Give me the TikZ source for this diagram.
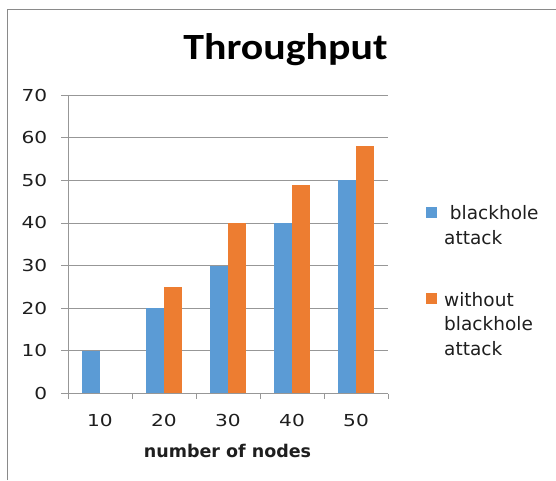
\documentclass[tikz,border=0pt]{standalone}
\usepackage{fontspec}
\usepackage{graphicx}
\setmainfont{DejaVu Sans}
\newfontfamily\titlefont{Carlito}
\definecolor{barblue}{HTML}{5B9BD5}
\definecolor{barorange}{HTML}{ED7D31}
\definecolor{gridgray}{HTML}{979797}
\definecolor{framegray}{HTML}{8A8A8A}
\definecolor{labelgray}{HTML}{1E1E1E}
\begin{document}
\begin{tikzpicture}[x=1pt,y=-1pt,
  gridline/.style={draw=gridgray, line width=0.8pt},
  axisline/.style={draw=gridgray, line width=0.8pt},
  framestyle/.style={draw=framegray, line width=0.8pt},
  ticklab/.style={font=\fontsize{16.5}{19}\selectfont, inner sep=0pt, text=labelgray},
  legtext/.style={font=\fontsize{18.5}{24.5}\selectfont, inner sep=0pt, align=left, anchor=north west, text=labelgray},
  bluebar/.style={fill=barblue},
  orangebar/.style={fill=barorange}]
\useasboundingbox (0,0) rectangle (556,480);
% outer frame
\draw[framestyle] (7.5,480) -- (7.5,9) -- (556,9);
% title
\node[font=\titlefont\bfseries\fontsize{37}{40}\selectfont, anchor=base, inner sep=0pt] (title) at (285.5,59) {\scalebox{1.13}[1]{Throughput}};
% gridlines and y labels
\foreach \v in {10,20,...,70}
  \draw[gridline] (61,{393.5-4.2643*\v}) -- (388,{393.5-4.2643*\v});
\foreach \v in {0,10,...,70}
  \node[ticklab, anchor=east] (y\v) at (47.5,{393.5-4.2643*\v}) {\scalebox{1.22}[1]{\v}};
% bars
\foreach \c/\a/\b [count=\i] in {10/10/0, 20/20/25, 30/30/40, 40/40/49, 50/50/58}{
  \pgfmathsetmacro{\cx}{36+64*\i}
  \fill[bluebar] ({\cx-18},393.5) rectangle (\cx,{393.5-4.2643*\a});
  \ifnum\b>0
    \fill[orangebar] (\cx,393.5) rectangle ({\cx+18},{393.5-4.2643*\b});
  \fi
  \node[ticklab] (x\c) at (\cx,420.5) {\scalebox{1.22}[1]{\c}};
}
% axes
\draw[axisline] (61,393.5) -- (388,393.5);
\draw[axisline] (68,95) -- (68,399);
\foreach \t in {132,196,260,324,388}
  \draw[axisline] (\t,393.5) -- (\t,399);
% axis title
\node[font=\fontsize{17.5}{20}\selectfont\bfseries, anchor=base, inner sep=0pt, text=labelgray] (xtitle) at (227.5,457) {number of nodes};
% legend
\fill[bluebar] (426,207) rectangle (437,218);
\node[legtext] (leg1) at (444,205.5) {\hspace*{5.7pt}blackhole\\attack};
\fill[orangebar] (426,293) rectangle (437,304);
\node[legtext] (leg2) at (444,292) {without\\blackhole\\attack};
\end{tikzpicture}
\end{document}
